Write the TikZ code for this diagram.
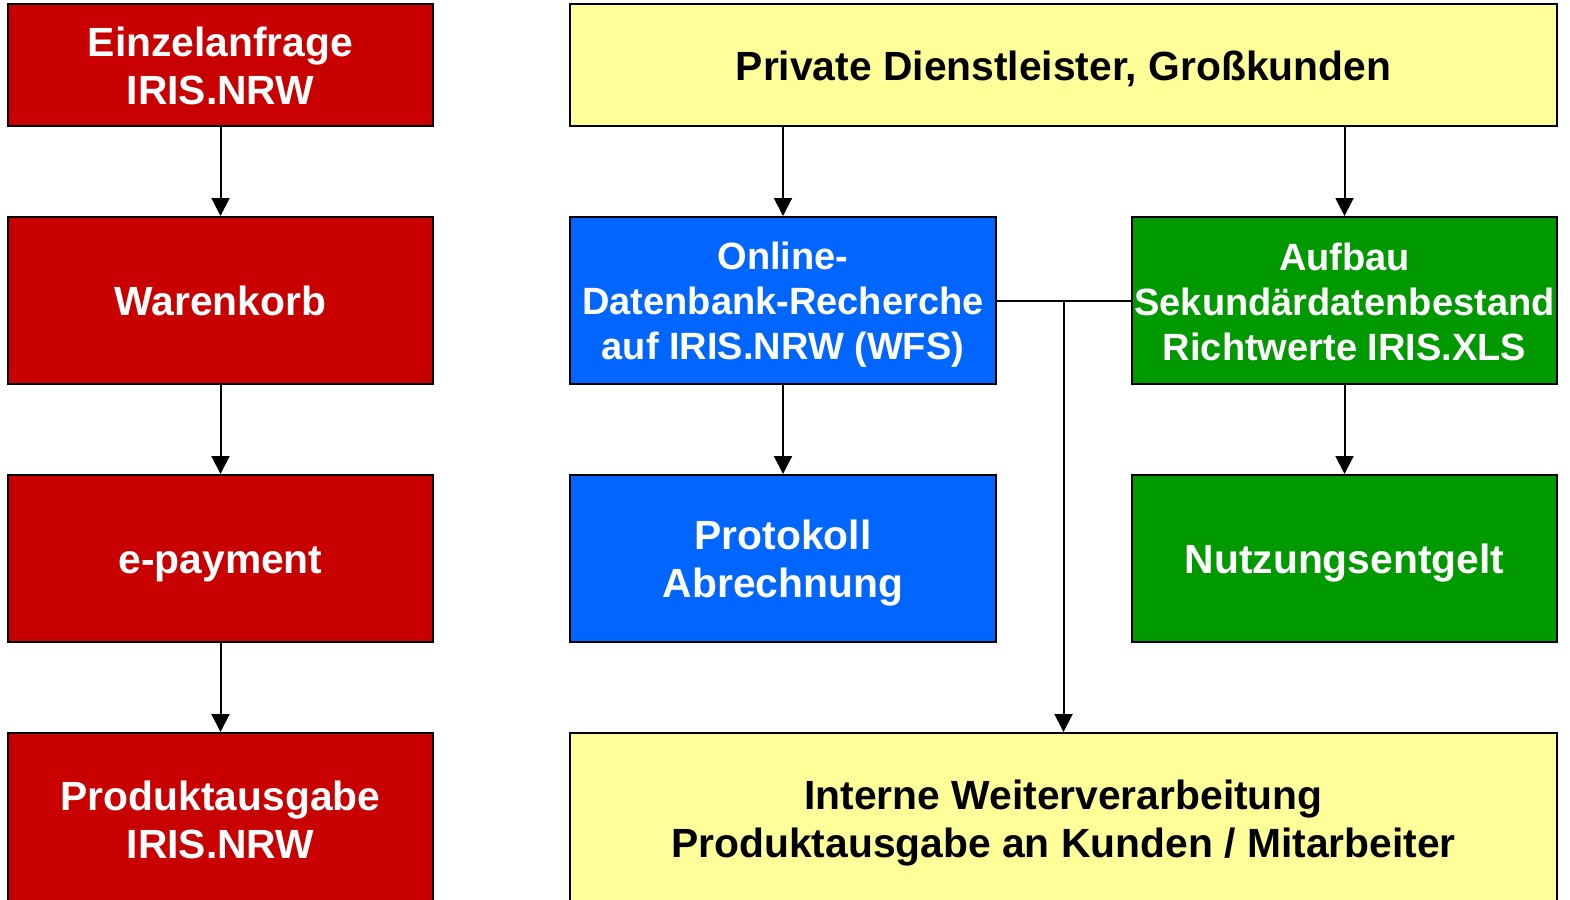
\documentclass[tikz,border=0pt]{standalone}
\usepackage{fontspec}
\setmainfont{Liberation Sans}
\usetikzlibrary{arrows.meta}
\definecolor{cred}{HTML}{C80000}
\definecolor{cblue}{HTML}{0066FF}
\definecolor{cgreen}{HTML}{009900}
\definecolor{cyellow}{HTML}{FFFF99}
\newcommand\mystrut{\rule[-8pt]{0pt}{46pt}}
\newcommand\mystrutS{\rule[-7pt]{0pt}{43pt}}
\tikzset{
  box/.style={draw=black, line width=2pt, rectangle, inner sep=0pt, align=center,
    font=\fontsize{40.8}{48}\selectfont\bfseries},
  redbox/.style={box, fill=cred, text=white, minimum width=425pt},
  bluebox/.style={box, fill=cblue, text=white, minimum width=426pt, minimum height=167pt},
  greenbox/.style={box, fill=cgreen, text=white, minimum width=425pt, minimum height=167pt},
  yelbox/.style={box, fill=cyellow, text=black, minimum width=987pt},
  small/.style={font=\fontsize{38}{45}\selectfont\bfseries},
  conn/.style={line width=2pt, draw=black},
  arr/.style={conn, -{Triangle[width=18pt,length=18pt]}}
}
\begin{document}
\begin{tikzpicture}[x=1pt,y=-1pt]
\useasboundingbox (0,0) rectangle (1570,899);
% left column
\node[redbox, minimum height=122pt] (r1) at (220.5,65) {\mystrut Einzelanfrage\\\mystrut IRIS.NRW};
\node[redbox, minimum height=167pt] (r2) at (220.5,300.5) {\mystrut Warenkorb};
\node[redbox, minimum height=167pt] (r3) at (220.5,558.5) {\mystrut e-payment};
\node[redbox, minimum height=172pt] (r4) at (220.5,819) {\mystrut Produktausgabe\\\mystrut IRIS.NRW};
% right part
\node[yelbox, minimum height=122pt] (yt) at (1063.5,65) {\mystrut Private Dienstleister, Großkunden};
\node[bluebox, small] (b1) at (783,300.5) {\mystrutS Online-\\\mystrutS Datenbank-Recherche\\\mystrutS auf IRIS.NRW (WFS)};
\node[bluebox] (b2) at (783,558.5) {\mystrut Protokoll\\\mystrut Abrechnung};
\node[greenbox, small] (g1) at (1344.5,300.5) {\mystrutS Aufbau\\\mystrutS Sekundärdatenbestand\\\mystrutS Richtwerte IRIS.XLS};
\node[greenbox] (g2) at (1344.5,558.5) {\mystrut Nutzungsentgelt};
\node[yelbox, minimum height=172pt] (yb) at (1063.5,819) {\mystrut Interne Weiterverarbeitung\\\mystrut Produktausgabe an Kunden / Mitarbeiter};
% connectors
\draw[arr] (r1) -- (r2);
\draw[arr] (r2) -- (r3);
\draw[arr] (r3) -- (r4);
\draw[arr] (yt.south -| b1.north) -- (b1.north);
\draw[arr] (yt.south -| g1.north) -- (g1.north);
\draw[arr] (b1) -- (b2);
\draw[arr] (g1) -- (g2);
\draw[conn] (b1.east) -- (g1.west);
\coordinate (j) at (b1.east -| yb.north);
\draw[arr] (j) -- (yb.north);
\end{tikzpicture}
\end{document}
